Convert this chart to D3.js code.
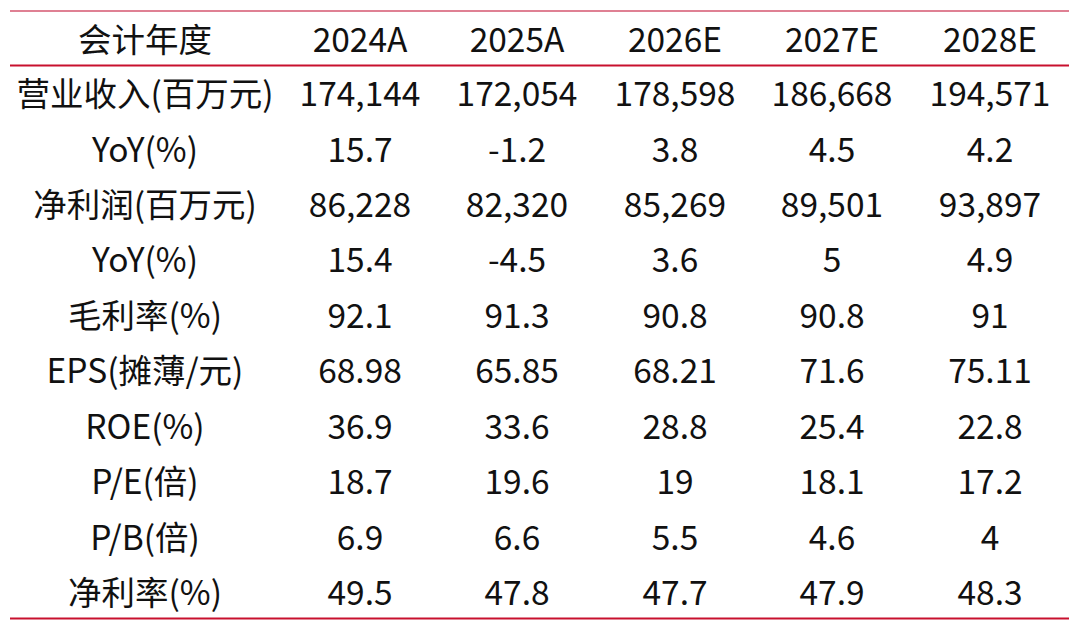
<!DOCTYPE html>
<html>
<head>
<meta charset="utf-8">
<script src="https://cdn.jsdelivr.net/npm/d3@7"></script>
<style>
  body { margin: 0; background: #fff; }
  svg text { font-family: "Noto Sans CJK SC", "Noto Sans", sans-serif; fill: #111; }
</style>
</head>
<body>
<div id="chart"></div>
<script>
// Table content
const headerLabel = '会计年度';
const years = ['2024A', '2025A', '2026E', '2027E', '2028E'];
const rowLabels = ['营业收入(百万元)', 'YoY(%)', '净利润(百万元)', 'YoY(%)', '毛利率(%)',
  'EPS(摊薄/元)', 'ROE(%)', 'P/E(倍)', 'P/B(倍)', '净利率(%)'];
const revenue = ['174,144', '172,054', '178,598', '186,668', '194,571'];
const revenueYoy = ['15.7', '-1.2', '3.8', '4.5', '4.2'];
const netProfit = ['86,228', '82,320', '85,269', '89,501', '93,897'];
const profitYoy = ['15.4', '-4.5', '3.6', '5', '4.9'];
const grossMargin = ['92.1', '91.3', '90.8', '90.8', '91'];
const eps = ['68.98', '65.85', '68.21', '71.6', '75.11'];
const roe = ['36.9', '33.6', '28.8', '25.4', '22.8'];
const pe = ['18.7', '19.6', '19', '18.1', '17.2'];
const pb = ['6.9', '6.6', '5.5', '4.6', '4'];
const netMargin = ['49.5', '47.8', '47.7', '47.9', '48.3'];
const rowValues = [revenue, revenueYoy, netProfit, profitYoy, grossMargin, eps, roe, pe, pb, netMargin];

const width = 1080, height = 630;
const svg = d3.select('#chart').append('svg')
  .attr('width', width).attr('height', height);

// Column centres: label column then year columns
const cols = ['label'].concat(years);
const xCol = d3.scaleOrdinal()
  .domain(cols)
  .range([145, 360, 517, 675, 832, 990]);

// Row centres
const yRow = d3.scalePoint()
  .domain(d3.range(rowLabels.length))
  .range([94, 593]);
const headerY = 40;
const fontSize = 33.5;

// Rules
svg.append('line')
  .attr('x1', 10).attr('x2', 1069).attr('y1', 11).attr('y2', 11)
  .attr('stroke', '#d4566f').attr('stroke-width', 1.3);
svg.append('line')
  .attr('x1', 10).attr('x2', 1069).attr('y1', 65.5).attr('y2', 65.5)
  .attr('stroke', '#c8102e').attr('stroke-width', 2.2);
svg.append('line')
  .attr('x1', 10).attr('x2', 1069).attr('y1', 618.5).attr('y2', 618.5)
  .attr('stroke', '#c8102e').attr('stroke-width', 2.2);

// Header
const header = svg.append('g');
header.selectAll('text')
  .data([headerLabel].concat(years))
  .enter().append('text')
    .attr('x', (d, i) => xCol(cols[i]))
    .attr('y', headerY)
    .attr('dy', '0.36em')
    .attr('text-anchor', 'middle')
    .style('font-size', fontSize + 'px')
    .text(d => d);

// Body rows
const rows = svg.append('g').selectAll('g')
  .data(rowLabels.map((l, i) => [l].concat(rowValues[i])))
  .enter().append('g')
    .attr('transform', (d, i) => `translate(0,${yRow(i)})`);

rows.selectAll('text')
  .data(d => d)
  .enter().append('text')
    .attr('x', (d, i) => xCol(cols[i]))
    .attr('dy', '0.36em')
    .attr('text-anchor', 'middle')
    .style('font-size', fontSize + 'px')
    .text(d => d);
</script>
</body>
</html>
